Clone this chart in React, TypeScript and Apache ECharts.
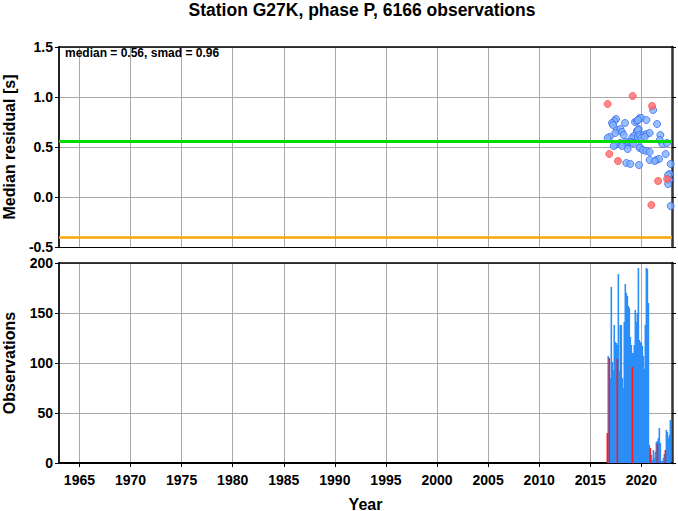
import React, { useEffect, useRef } from "react";
import * as echarts from "echarts";

const TITLE = "Station G27K, phase P, 6166 observations";
const STATS_TEXT = "median = 0.56, smad = 0.96";
const MEDIAN = 0.56;
const LOWER = -0.4;
const YEAR_TICKS = [1965, 1970, 1975, 1980, 1985, 1990, 1995, 2000, 2005, 2010, 2015, 2020];

// Top panel: median residuals [year, value]
const bluePoints: [number, number][] = [
  [2017.52, 0.78], [2017.35, 0.76], [2017.13, 0.74], [2017.23, 0.72], [2018.4, 0.74],
  [2019.38, 0.75], [2019.57, 0.76], [2019.83, 0.79], [2017.62, 0.67], [2017.94, 0.68],
  [2018.1, 0.65], [2017.45, 0.64], [2018.27, 0.62], [2016.9, 0.6], [2016.7, 0.59],
  [2019.57, 0.66], [2019.74, 0.68], [2019.25, 0.61], [2019.41, 0.58], [2019.09, 0.59],
  [2019.64, 0.6], [2017.94, 0.54], [2018.43, 0.55], [2018.6, 0.52], [2018.1, 0.51],
  [2017.45, 0.52], [2017.29, 0.51], [2018.76, 0.55], [2018.99, 0.55], [2019.18, 0.54],
  [2018.66, 0.48], [2019.83, 0.5], [2018.53, 0.34], [2018.92, 0.33], [2019.77, 0.32],
  [2021.15, 0.87], [2020.0, 0.79], [2020.49, 0.77], [2019.67, 0.77], [2021.54, 0.73],
  [2019.67, 0.67], [2019.83, 0.62], [2020.23, 0.62], [2020.49, 0.63], [2020.81, 0.64],
  [2021.86, 0.62], [2020.0, 0.59], [2020.33, 0.6], [2021.8, 0.57], [2022.06, 0.53],
  [2022.5, 0.54], [2019.83, 0.49], [2020.16, 0.47], [2020.49, 0.46], [2020.81, 0.45],
  [2022.38, 0.43], [2020.81, 0.37], [2021.47, 0.37], [2021.73, 0.38], [2021.31, 0.36],
  [2022.87, 0.33], [2022.78, 0.23], [2022.62, 0.22], [2022.71, 0.17], [2022.62, 0.13],
  [2022.87, -0.09]
];
const redPoints: [number, number][] = [
  [2019.15, 1.01], [2016.7, 0.93], [2016.86, 0.43], [2017.71, 0.36],
  [2021.05, 0.91], [2021.64, 0.16], [2022.52, 0.18], [2020.98, -0.08]
];

// Bottom panel: observation counts
const barYears = [
  2016.76, 2016.86, 2016.96, 2017.06, 2017.16, 2017.25, 2017.35, 2017.45, 2017.55, 2017.65,
  2017.75, 2017.84, 2017.94, 2018.04, 2018.14, 2018.24, 2018.33, 2018.43, 2018.53, 2018.63,
  2018.73, 2018.82, 2018.92, 2019.02, 2019.12, 2019.22, 2019.31, 2019.41, 2019.51, 2019.61,
  2019.71, 2019.8, 2019.9, 2020.0, 2020.1, 2020.2, 2020.29, 2020.39, 2020.49, 2020.59,
  2020.69, 2020.78, 2020.88, 2020.98, 2021.08, 2021.18, 2021.27, 2021.37, 2021.47, 2021.57,
  2021.67, 2021.76, 2021.86, 2021.96, 2022.06, 2022.16, 2022.25, 2022.35, 2022.45, 2022.55,
  2022.65, 2022.75, 2022.84
];
const barCounts = [
  107, 100, 85, 176, 101, 93, 138, 121, 120, 118,
  189, 92, 138, 138, 85, 75, 141, 179, 170, 167,
  157, 155, 126, 118, 110, 110, 118, 153, 141, 150,
  195, 123, 121, 120, 117, 107, 94, 138, 195, 194,
  160, 18, 10, 8, 3, 13, 5, 11, 21, 22,
  25, 35, 20, 2, 2, 5, 9, 5, 33, 31,
  25, 28, 43
];
const redBarYears = [2016.67, 2016.86, 2017.65, 2019.12, 2020.88, 2021.57, 2022.35];
const redBarCounts = [30, 105, 104, 96, 15, 19, 13];

const FONT = "Liberation Sans, Arial, Helvetica, sans-serif";

export default function App() {
  const ref = useRef<HTMLDivElement>(null);
  useEffect(() => {
    if (!ref.current) return;
    const chart = echarts.init(ref.current, undefined, { renderer: "svg" });
    const gridLine = { show: true, lineStyle: { color: "#a8a8a8", width: 1 } };
    const xBase = (gridIndex: number, position: "top" | "bottom", showLabels: boolean, lineWidth: number, split: boolean) => ({
      type: "value" as const,
      gridIndex,
      position,
      min: 1963,
      max: 2023,
      axisLine: { show: true, onZero: false, lineStyle: { color: "#000", width: lineWidth } },
      axisTick: { show: showLabels, customValues: YEAR_TICKS, length: 4, lineStyle: { color: "#000" } },
      axisLabel: {
        show: showLabels,
        customValues: YEAR_TICKS,
        fontFamily: FONT,
        fontWeight: "bold",
        fontSize: 14,
        color: "#000",
        margin: 10,
        formatter: (v: number) => String(Math.round(v))
      },
      splitLine: split ? gridLine : { show: false }
    });
    const option: any = {
      animation: false,
      backgroundColor: "#fff",
      textStyle: { fontFamily: FONT },
      grid: [
        { left: 59, top: 47, width: 613, height: 200, outerBoundsMode: "none", containLabel: false },
        { left: 59, top: 263, width: 613, height: 200, outerBoundsMode: "none", containLabel: false }
      ],
      xAxis: [
        xBase(0, "bottom", false, 1, true),
        xBase(0, "top", false, 1.5, false),
        {
          ...xBase(1, "bottom", true, 2, true),
          name: "Year",
          nameLocation: "middle",
          nameGap: 33,
          nameTextStyle: { fontFamily: FONT, fontWeight: "bold", fontSize: 16, color: "#000" }
        },
        xBase(1, "top", false, 1.5, false)
      ],
      yAxis: [
        {
          type: "value",
          gridIndex: 0,
          position: "left",
          min: -0.5,
          max: 1.5,
          interval: 0.5,
          name: "Median residual [s]",
          nameLocation: "middle",
          nameGap: 42,
          nameTextStyle: { fontFamily: FONT, fontWeight: "bold", fontSize: 16, color: "#000" },
          axisLine: { show: true, onZero: false, lineStyle: { color: "#222", width: 2 } },
          axisTick: { show: true, length: 4, lineStyle: { color: "#000" } },
          axisLabel: {
            fontFamily: FONT, fontWeight: "bold", fontSize: 14, color: "#000", margin: 6,
            formatter: (v: number) => v.toFixed(1)
          },
          splitLine: gridLine
        },
        {
          type: "value",
          gridIndex: 0,
          position: "right",
          min: -0.5,
          max: 1.5,
          interval: 0.5,
          axisLine: { show: true, onZero: false, lineStyle: { color: "#333", width: 2.5 } },
          axisTick: { show: true, length: 4, lineStyle: { color: "#000" } },
          axisLabel: { show: false },
          splitLine: { show: false }
        },
        {
          type: "value",
          gridIndex: 1,
          position: "left",
          min: 0,
          max: 200,
          interval: 50,
          name: "Observations",
          nameLocation: "middle",
          nameGap: 42,
          nameTextStyle: { fontFamily: FONT, fontWeight: "bold", fontSize: 16, color: "#000" },
          axisLine: { show: true, onZero: false, lineStyle: { color: "#222", width: 2 } },
          axisTick: { show: true, length: 4, lineStyle: { color: "#000" } },
          axisLabel: { fontFamily: FONT, fontWeight: "bold", fontSize: 14, color: "#000", margin: 6 },
          splitLine: gridLine
        },
        {
          type: "value",
          gridIndex: 1,
          position: "right",
          min: 0,
          max: 200,
          interval: 50,
          axisLine: { show: true, onZero: false, lineStyle: { color: "#333", width: 2.5 } },
          axisTick: { show: true, length: 4, lineStyle: { color: "#000" } },
          axisLabel: { show: false },
          splitLine: { show: false }
        }
      ],
      graphic: [
        {
          type: "text",
          x: 362,
          y: 10,
          style: {
            text: TITLE,
            fontFamily: FONT,
            fontWeight: "bold",
            fontSize: 17.5,
            fill: "#000",
            textAlign: "center",
            textVerticalAlign: "middle"
          }
        },
        {
          type: "text",
          x: 65,
          y: 53,
          z: 100,
          style: {
            text: STATS_TEXT,
            fontFamily: FONT,
            fontWeight: "bold",
            fontSize: 12,
            fill: "#000",
            textAlign: "left",
            textVerticalAlign: "middle"
          }
        }
      ],
      series: [
        {
          type: "line",
          xAxisIndex: 0,
          yAxisIndex: 0,
          data: [],
          z: 1,
          markLine: {
            silent: true,
            symbol: "none",
            label: { show: false },
            data: [
              { yAxis: MEDIAN, lineStyle: { color: "#00dd00", width: 3, type: "solid" } },
              { yAxis: LOWER, lineStyle: { color: "#ffa500", width: 2.5, type: "solid" } }
            ]
          }
        },
        {
          type: "scatter",
          xAxisIndex: 0,
          yAxisIndex: 0,
          z: 3,
          symbolSize: 7,
          data: bluePoints,
          itemStyle: { color: "#7fb2ff", borderColor: "#3a6aee", borderWidth: 1 }
        },
        {
          type: "scatter",
          xAxisIndex: 0,
          yAxisIndex: 0,
          z: 4,
          symbolSize: 7,
          data: redPoints,
          itemStyle: { color: "#ff6b6b", borderColor: "#ff4d4d", borderWidth: 1 }
        },
        {
          type: "bar",
          xAxisIndex: 2,
          yAxisIndex: 2,
          barWidth: 1.6,
          barGap: "-100%",
          data: barYears.map((y, i) => [y, barCounts[i]]),
          itemStyle: { color: "#2b8ef8" }
        },
        {
          type: "bar",
          xAxisIndex: 2,
          yAxisIndex: 2,
          barWidth: 1.6,
          barGap: "-100%",
          z: 3,
          data: redBarYears.map((y, i) => [y, redBarCounts[i]]),
          itemStyle: { color: "#ff1a1a" }
        }
      ]
    };
    chart.setOption(option);
    return () => chart.dispose();
  }, []);
  return (
    <div
      ref={ref}
      style={{ position: "fixed", left: 0, top: 0, width: 678, height: 511, background: "#fff" }}
    />
  );
}
